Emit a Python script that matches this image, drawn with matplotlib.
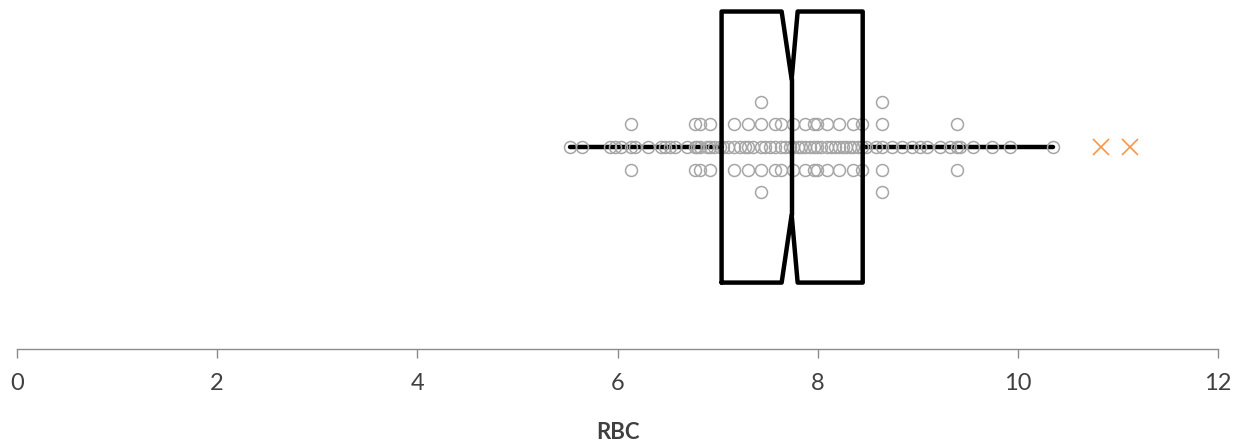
import matplotlib.pyplot as plt

# valori RBC (valore, numero di osservazioni uguali)
rbc_values = [5.53, 5.65, 5.93, 5.98, 6.03, 6.13, 6.17, 6.30, 6.43, 6.47,
              6.52, 6.57, 6.69, 6.77, 6.79, 6.82, 6.89, 6.92, 6.96, 7.02,
              7.05, 7.10, 7.16, 7.22, 7.27, 7.30, 7.35, 7.43, 7.47, 7.52,
              7.57, 7.63, 7.67, 7.72, 7.75, 7.80, 7.83, 7.87, 7.92, 7.96,
              7.99, 8.03, 8.09, 8.13, 8.17, 8.21, 8.25, 8.28, 8.32, 8.35,
              8.40, 8.44, 8.48, 8.58, 8.64, 8.74, 8.84, 8.94, 9.02, 9.09,
              9.22, 9.32, 9.39, 9.42, 9.55, 9.74, 9.92, 10.35]
rbc_counts = [1, 1, 1, 1, 1, 3, 1, 1, 1, 1,
              1, 1, 1, 3, 1, 3, 1, 3, 1, 1,
              1, 1, 3, 1, 1, 3, 1, 5, 1, 1,
              3, 3, 1, 1, 3, 1, 1, 3, 1, 3,
              3, 1, 3, 1, 1, 3, 1, 1, 1, 3,
              1, 3, 1, 1, 5, 1, 1, 1, 1, 1,
              1, 1, 3, 1, 1, 1, 1, 1]
outliers = [10.83, 11.12]

# statistiche del box
q1, median, q3 = 7.04, 7.74, 8.45
notch_lo, notch_hi = 7.64, 7.80
whisker_lo, whisker_hi = 5.53, 10.35

fig = plt.figure(figsize=(12.5, 4.43), dpi=100)
ax = fig.add_axes([17 / 1250, 1 - 349 / 443, 1201 / 1250, 349 / 443])

# punti disposti a file sopra e sotto il centro
row_step = 0.067
dot_x, dot_y = [], []
for v, c in zip(rbc_values, rbc_counts):
    levels = [0] if c % 2 else []
    for k in range(1, c // 2 + 1):
        levels += [k, -k]
    for lv in levels:
        dot_x.append(v)
        dot_y.append(lv * row_step)

ax.plot(dot_x, dot_y, linestyle='none', marker='o', markersize=8.6,
        markerfacecolor='none', markeredgecolor='#a6a6a6',
        markeredgewidth=1.1, zorder=2)

stats = [dict(med=median, q1=q1, q3=q3, whislo=whisker_lo, whishi=whisker_hi,
              cilo=notch_lo, cihi=notch_hi, fliers=outliers)]
line = dict(color='black', linewidth=3.2, solid_joinstyle='round',
            solid_capstyle='round')
ax.bxp(stats, positions=[0], widths=0.8, orientation='horizontal',
       shownotches=True, showcaps=False,
       boxprops=dict(line, zorder=3), whiskerprops=dict(line, zorder=1),
       medianprops=dict(line, zorder=3),
       flierprops=dict(marker='x', markersize=11, markeredgecolor='#f79646',
                       markeredgewidth=1.2, linestyle='none'))

ax.set_xlim(0, 12)
ax.set_ylim(-0.596, 0.434)
ax.set_xticks(range(0, 13, 2))
ax.set_xticklabels([str(t) for t in range(0, 13, 2)])
ax.set_yticks([])
for s in ['top', 'right', 'left']:
    ax.spines[s].set_visible(False)
ax.spines['bottom'].set_color('#8c8c8c')
ax.spines['bottom'].set_linewidth(1)
ax.tick_params(axis='x', direction='out', length=6.5, width=1, color='#8c8c8c',
               labelsize=17, labelcolor='#404040', pad=11)
for lab in ax.get_xticklabels():
    lab.set_family('Lato')
ax.set_xlabel('RBC', fontsize=16, fontweight='bold', color='#404040',
              family='Lato', labelpad=20)

fig.savefig('out.png', dpi=100)
